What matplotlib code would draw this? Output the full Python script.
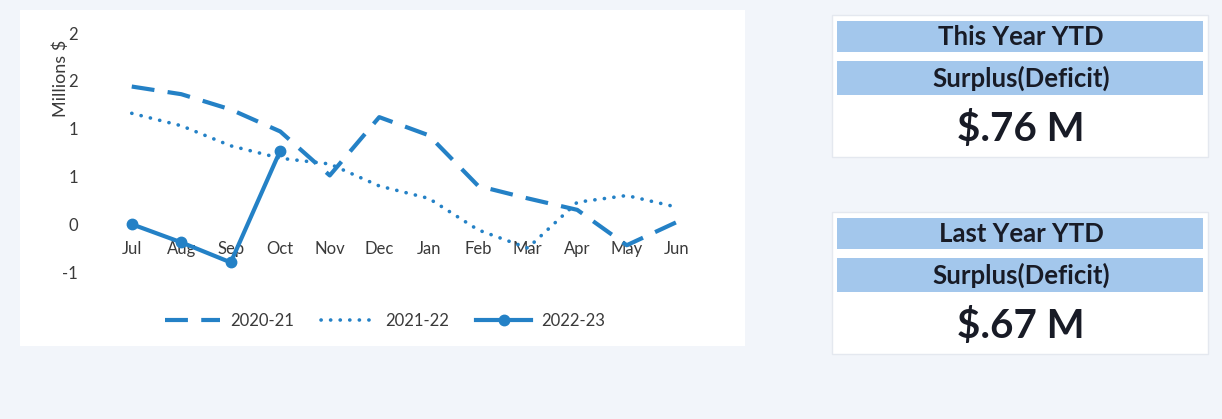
import matplotlib
matplotlib.use("Agg")
import matplotlib.pyplot as plt
from matplotlib.patches import Rectangle

# ---- data ----
months = ["Jul", "Aug", "Sep", "Oct", "Nov", "Dec", "Jan", "Feb", "Mar", "Apr", "May", "Jun"]
fy2020_21 = [1.44, 1.36, 1.20, 0.97, 0.51, 1.12, 0.93, 0.40, 0.27, 0.15, -0.22, 0.02]
fy2021_22 = [1.16, 1.03, 0.82, 0.69, 0.63, 0.40, 0.27, -0.06, -0.25, 0.23, 0.30, 0.18]
fy2022_23 = [0.0, -0.19, -0.40, 0.77]
series_names = ["2020-21", "2021-22", "2022-23"]
y_ticks = [-0.5, 0.0, 0.5, 1.0, 1.5, 2.0]
y_tick_labels = ["-1", "0", "1", "1", "2", "2"]
y_label = "Millions $"
this_year_title = "This Year YTD"
last_year_title = "Last Year YTD"
sub_title = "Surplus(Deficit)"
this_year_value = "$.76 M"
last_year_value = "$.67 M"

W, H = 1222, 419
FONT = ["Lato", "DejaVu Sans"]
plt.rcParams["font.family"] = FONT

BLUE = "#2481c6"
BAR = "#a3c7ec"
TXT = "#3a3a3a"
DARK = "#181b26"

fig = plt.figure(figsize=(W / 100, H / 100), dpi=100)
fig.patch.set_facecolor("#f2f5fa")

# overlay for panels (pixel layout)
deco = fig.add_axes([0, 0, 1, 1], zorder=0)
deco.set_xlim(0, W)
deco.set_ylim(H, 0)
deco.axis("off")
deco.add_patch(Rectangle((20, 10), 725, 336, facecolor="white", edgecolor="none"))

def panel(y0, title, value):
    deco.add_patch(Rectangle((832, y0 - 6), 376, 142, facecolor="white", edgecolor="#e4e8ef", lw=1))
    deco.add_patch(Rectangle((837, y0), 366, 31, facecolor=BAR, edgecolor="none"))
    deco.add_patch(Rectangle((837, y0 + 40), 366, 34, facecolor=BAR, edgecolor="none"))
    deco.text(1021, y0 + 16, title, ha="center", va="center", fontsize=18.5,
              fontweight="bold", color=DARK)
    deco.text(1021, y0 + 57, sub_title, ha="center", va="center", fontsize=18.5,
              fontweight="bold", color=DARK)
    deco.text(1021, y0 + 108, value, ha="center", va="center", fontsize=29,
              fontweight="bold", color=DARK)

panel(21, this_year_title, this_year_value)
panel(218, last_year_title, last_year_value)

# ---- chart ----
x0, x1 = 107, 701
yb, yt = 272, 33
ax = fig.add_axes([x0 / W, 1 - yb / H, (x1 - x0) / W, (yb - yt) / H], zorder=2)
ax.patch.set_alpha(0)

xs = list(range(len(months)))
ax.plot(xs, fy2020_21, color=BLUE, lw=3.0, linestyle=(0, (5.5, 3.2)),
        dash_capstyle="butt", label=series_names[0])
ax.plot(xs, fy2021_22, color=BLUE, lw=2.6, linestyle=(0, (0.05, 2.6)),
        dash_capstyle="round", label=series_names[1])
ax.plot(xs[:len(fy2022_23)], fy2022_23, color=BLUE, lw=3.0, marker="o",
        markersize=7.5, label=series_names[2])

ax.set_xlim(-0.5, len(months) - 0.5)
ax.set_ylim(-0.5, 2.0)
ax.set_xticks(xs)
ax.set_xticklabels(months)
ax.set_yticks(y_ticks)
ax.set_yticklabels(y_tick_labels)
for s in ax.spines.values():
    s.set_visible(False)
ax.spines["bottom"].set_position(("data", 0))
ax.tick_params(axis="x", length=0, pad=12, labelsize=12, labelcolor=TXT)
ax.tick_params(axis="y", length=0, pad=21, labelsize=12, labelcolor=TXT)
ax.set_ylabel(y_label, fontsize=13, color=TXT)
ax.yaxis.set_label_coords(-(x0 - 69) / (x1 - x0), 1 - (78 - yt) / (yb - yt))

leg = fig.legend(loc="center", bbox_to_anchor=(385 / W, 1 - 321 / H), ncol=3,
                 frameon=False, fontsize=12, handlelength=3.3, columnspacing=1.6,
                 handletextpad=0.6, labelcolor=TXT)

fig.savefig("out.png", dpi=100, facecolor=fig.get_facecolor())
